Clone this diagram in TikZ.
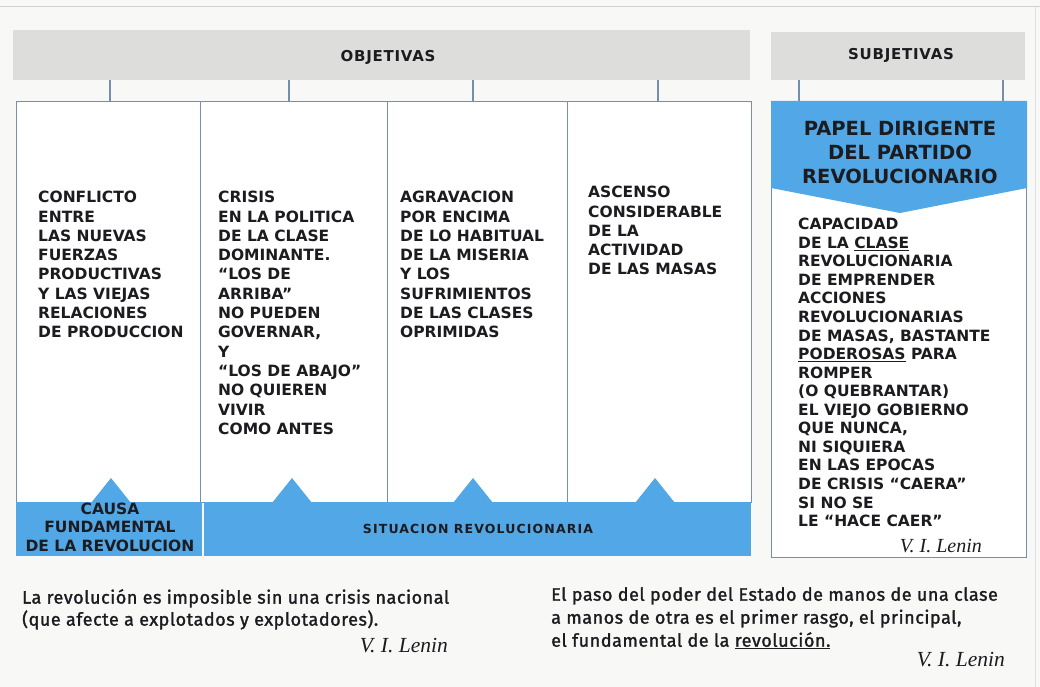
\documentclass[tikz,border=0pt]{standalone}
\usepackage{fontspec}
\newfontfamily\djs{DejaVu Sans}
\newfontfamily\djls{DejaVu Sans}[LetterSpace=5]
\newfontfamily\djss{DejaVu Sans}[LetterSpace=9]
\newfontfamily\fira{Fira Sans}[FakeBold=1.5,LetterSpace=3]
\newfontfamily\lser{Liberation Serif}
\definecolor{rblue}{RGB}{82,168,230}
\definecolor{rgray}{RGB}{221,221,219}
\definecolor{rline}{RGB}{118,142,172}
\definecolor{rink}{RGB}{28,28,32}
\definecolor{rbg}{RGB}{248,248,246}
\tikzset{
  graybar/.style={fill=rgray, draw=none, anchor=north west, inner sep=0pt},
  colbox/.style={draw=rline, line width=1.1pt, fill=white, anchor=north west, inner sep=0pt},
  band/.style={fill=rblue, draw=none, anchor=north west, inner sep=0pt},
  tick/.style={draw=rline, line width=1.1pt},
  bodytxt/.style={anchor=north west, inner sep=0pt, align=left, text=rink,
     font=\djs\bfseries\fontsize{15.5}{19.3}\selectfont},
  subjtxt/.style={anchor=north west, inner sep=0pt, align=left, text=rink,
     font=\djs\bfseries\fontsize{15.5}{18.56}\selectfont},
  headtxt/.style={inner sep=0pt, text=rink, font=\djls\bfseries\fontsize{15}{17}\selectfont},
  foottxt/.style={anchor=north west, inner sep=0pt, align=left, text=rink},
  lenin/.style={inner sep=0pt, text=rink, font=\lser\itshape\fontsize{20}{22}\selectfont},
}
\begin{document}
\begin{tikzpicture}[x=1pt,y=-1pt]
\fill[rbg] (0,0) rectangle (1040,687);
\useasboundingbox (0,0) rectangle (1040,687);
\draw[black!18, line width=1pt] (0,7) -- (1040,7);
\draw[black!12, line width=1pt] (1035,7) -- (1035,687);

% header bars
\node[graybar, minimum width=737pt, minimum height=50pt] (obj) at (13,30) {};
\node[headtxt] (objt) at (388,57) {OBJETIVAS};
\node[graybar, minimum width=254pt, minimum height=48pt] (sbar) at (771,32) {};
\node[headtxt] (sbt) at (901,55) {SUBJETIVAS};

% column boxes
\node[colbox, minimum width=184pt, minimum height=401pt] (c1) at (16,101) {};
\node[colbox, minimum width=187pt, minimum height=401pt] (c2) at (200,101) {};
\node[colbox, minimum width=180pt, minimum height=401pt] (c3) at (387,101) {};
\node[colbox, minimum width=184pt, minimum height=401pt] (c4) at (567,101) {};

% ticks
\coordinate (t1) at (110,0);
\coordinate (t2) at (289,0);
\coordinate (t3) at (473,0);
\coordinate (t4) at (658,0);
\coordinate (t5) at (799,0);
\coordinate (t6) at (1003,0);
\draw[tick] (obj.south -| t1) -- (c1.north -| t1);
\draw[tick] (obj.south -| t2) -- (c2.north -| t2);
\draw[tick] (obj.south -| t3) -- (c3.north -| t3);
\draw[tick] (obj.south -| t4) -- (c4.north -| t4);

% subjective box
\node[colbox, minimum width=255pt, minimum height=456pt] (sb) at (771,101) {};
\draw[tick] (sbar.south -| t5) -- (sb.north -| t5);
\draw[tick] (sbar.south -| t6) -- (sb.north -| t6);
\fill[rblue] (sb.north west) -- (sb.north east) -- ([yshift=-87pt]sb.north east)
  -- (900,213) -- ([yshift=-87pt]sb.north west) -- cycle;
\node[inner sep=0pt, align=center, text=rink, font=\djs\bfseries\fontsize{19.5}{24}\selectfont]
  (papel) at (900,152) {PAPEL DIRIGENTE\\DEL PARTIDO\\REVOLUCIONARIO};

% blue bands
\node[band, minimum width=186pt, minimum height=54pt] (causa) at (16,502) {};
\node[band, minimum width=547pt, minimum height=54pt] (situ) at (204,502) {};
\foreach \cx in {111,292,473,655}{
  \fill[rblue] (\cx-20,503) -- (\cx,478) -- (\cx+20,503) -- cycle;
}
\node[inner sep=0pt, align=center, text=rink, font=\djs\bfseries\fontsize{15.5}{18.5}\selectfont]
  (causat) at (110,527) {CAUSA\\FUNDAMENTAL\\DE LA REVOLUCION};
\node[inner sep=0pt, text=rink, font=\djss\bfseries\fontsize{12.5}{14}\selectfont]
  (situt) at (478,529) {SITUACION REVOLUCIONARIA};

% column texts
\node[bodytxt] (tx1) at (38,191) {CONFLICTO\\ENTRE\\LAS NUEVAS\\FUERZAS\\PRODUCTIVAS\\Y LAS VIEJAS\\RELACIONES\\DE PRODUCCION};
\node[bodytxt] (tx2) at (218,191) {CRISIS\\EN LA POLITICA\\DE LA CLASE\\DOMINANTE.\\“LOS DE\\ARRIBA”\\NO PUEDEN\\GOVERNAR,\\Y\\“LOS DE ABAJO”\\NO QUIEREN\\VIVIR\\COMO ANTES};
\node[bodytxt] (tx3) at (400,191) {AGRAVACION\\POR ENCIMA\\DE LO HABITUAL\\DE LA MISERIA\\Y LOS\\SUFRIMIENTOS\\DE LAS CLASES\\OPRIMIDAS};
\node[bodytxt] (tx4) at (588,186) {ASCENSO\\CONSIDERABLE\\DE LA\\ACTIVIDAD\\DE LAS MASAS};
\node[subjtxt] (tx5) at (798,218) {CAPACIDAD\\DE LA \underline{CLASE}\\REVOLUCIONARIA\\DE EMPRENDER\\ACCIONES\\REVOLUCIONARIAS\\DE MASAS, BASTANTE\\\underline{PODEROSAS} PARA\\ROMPER\\(O QUEBRANTAR)\\EL VIEJO GOBIERNO\\QUE NUNCA,\\NI SIQUIERA\\EN LAS EPOCAS\\DE CRISIS “CAERA”\\SI NO SE\\LE “HACE CAER”};
\node[lenin, anchor=east] (len1) at (982,546) {V. I. Lenin};

% footer quotes
\node[foottxt, font=\fira\fontsize{18}{22}\selectfont] (q1) at (22,589) {La revolución es imposible sin una crisis nacional\\(que afecte a explotados y explotadores).};
\node[lenin, anchor=east, font=\lser\itshape\fontsize{21.5}{22}\selectfont] (len2) at (448,646) {V. I. Lenin};
\node[foottxt, font=\fira\fontsize{18}{23}\selectfont] (q2) at (551,587) {El paso del poder del Estado de manos de una clase\\a manos de otra es el primer rasgo, el principal,\\el fundamental de la \underline{revolución.}};
\node[lenin, anchor=east, font=\lser\itshape\fontsize{21.5}{22}\selectfont] (len3) at (1005,660) {V. I. Lenin};
\end{tikzpicture}
\end{document}
